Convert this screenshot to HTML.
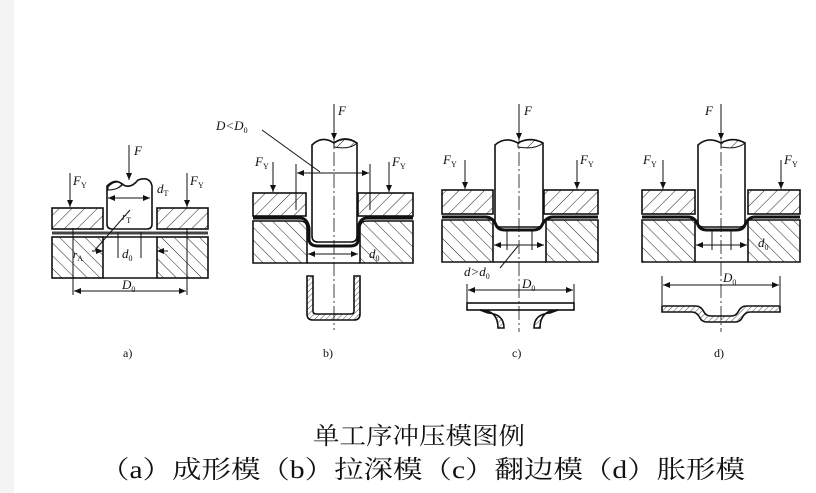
<!DOCTYPE html>
<html><head><meta charset="utf-8"><style>
html,body{margin:0;padding:0;background:#fff;}
svg{display:block;}
</style></head><body>
<svg width="816" height="493" viewBox="0 0 816 493" xmlns="http://www.w3.org/2000/svg" font-family="Liberation Serif, serif">
<defs>
<pattern id="h1" width="9" height="9" patternUnits="userSpaceOnUse" patternTransform="rotate(45)"><line x1="0" y1="0" x2="0" y2="9" stroke="#222" stroke-width="1"/></pattern>
<pattern id="h2" width="9" height="9" patternUnits="userSpaceOnUse" patternTransform="rotate(-45)"><line x1="0" y1="0" x2="0" y2="9" stroke="#222" stroke-width="1"/></pattern>
<pattern id="h3" width="4" height="4" patternUnits="userSpaceOnUse" patternTransform="rotate(45)"><line x1="0" y1="0" x2="0" y2="4" stroke="#222" stroke-width="0.8"/></pattern>
<marker id="ar" markerWidth="8" markerHeight="8" refX="7" refY="4" orient="auto"><path d="M0,1 L7,4 L0,7 z" fill="#111"/></marker>
</defs>
<rect x="0" y="0" width="14" height="493" fill="#f4f4f4"/>
<g stroke="#111" stroke-width="1.6" fill="none">
<!-- panel a -->
<rect x="52" y="208" width="51" height="21" fill="url(#h1)"/>
<rect x="157" y="208" width="51" height="21" fill="url(#h1)"/>
<rect x="52" y="237" width="51" height="41" fill="url(#h2)"/>
<rect x="157" y="237" width="51" height="41" fill="url(#h2)"/>
<line x1="103" y1="237" x2="157" y2="237"/>
<line x1="103" y1="278" x2="157" y2="278"/>
<path d="M107,186 Q115,178 122,184 Q130,190 138,180 Q150,176 152,186 L152,224 Q152,229 147,229 L112,229 Q107,229 107,224 Z" fill="#fff"/>
<path d="M108,187 Q115,179 123,184 Q118,190 108,190 Z" fill="url(#h1)" stroke-width="1"/>
<line x1="52" y1="233" x2="208" y2="233" stroke-width="3" stroke="#444"/>
</g>
<g stroke="#111" stroke-width="1" fill="none">
<line x1="129" y1="145" x2="129" y2="180" marker-end="url(#ar)"/>
<line x1="70" y1="173" x2="70" y2="207" marker-end="url(#ar)"/>
<line x1="187" y1="173" x2="187" y2="207" marker-end="url(#ar)"/>
<line x1="112" y1="198" x2="150" y2="198" marker-end="url(#ar)"/><line x1="150" y1="198" x2="108" y2="198" marker-end="url(#ar)"/>
<line x1="92" y1="251" x2="103" y2="251" marker-end="url(#ar)"/><line x1="168" y1="251" x2="157" y2="251" marker-end="url(#ar)"/>
<line x1="73" y1="228" x2="73" y2="295"/><line x1="187" y1="228" x2="187" y2="295"/>
<line x1="75" y1="291" x2="186" y2="291" marker-end="url(#ar)"/><line x1="185" y1="291" x2="74" y2="291" marker-end="url(#ar)"/>
<line x1="95" y1="250" x2="130" y2="210"/>
<line x1="118" y1="232" x2="118" y2="258"/><line x1="141" y1="232" x2="141" y2="258"/>
</g>
<g font-style="italic" font-size="13" fill="#111">
<text x="134" y="155">F</text><text x="73" y="185">F<tspan font-size="8" dy="3" font-style="normal">Y</tspan></text>
<text x="190" y="185">F<tspan font-size="8" dy="3" font-style="normal">Y</tspan></text>
<text x="157" y="193">d<tspan font-size="8" dy="3" font-style="normal">T</tspan></text>
<text x="122" y="220" font-size="11">r<tspan font-size="8" dy="3" font-style="normal">T</tspan></text>
<text x="73" y="258" font-size="11">r<tspan font-size="8" dy="3" font-style="normal">A</tspan></text>
<text x="122" y="258">d<tspan font-size="8" dy="3" font-style="normal">0</tspan></text>
<text x="122" y="289">D<tspan font-size="8" dy="3" font-style="normal">0</tspan></text>
</g>
<!-- panel b -->
<g stroke="#111" stroke-width="1.6" fill="none">
<rect x="253" y="193" width="53" height="23" fill="url(#h1)"/>
<rect x="358" y="193" width="55" height="23" fill="url(#h1)"/>
<path d="M253,221 L300,221 Q307,221 307,228 L307,263 L253,263 Z" fill="url(#h2)"/>
<path d="M413,221 L367,221 Q360,221 360,228 L360,263 L413,263 Z" fill="url(#h2)"/>
<line x1="307" y1="263" x2="360" y2="263"/>
<path d="M312,145 Q322,135 334,143 Q345,135 357,143 L357,236 Q357,242 351,242 L318,242 Q312,242 312,236 Z" fill="#fff"/>
<path d="M334,143 Q345,136 357,143 Q350,150 334,147 Z" fill="url(#h1)" stroke-width="1"/>
<path d="M253,218 L300,218 Q307,218 309,228 L309,240 Q310,246 318,246 L350,246 Q358,246 358,240 L358,228 Q360,218 367,218 L413,218" stroke-width="3"/>
<path fill-rule="evenodd" fill="url(#h3)" d="M307,276 L307,314 Q307,320 313,320 L354,320 Q360,320 360,314 L360,276 L354,276 L354,311 Q354,314 351,314 L316,314 Q313,314 313,311 L313,276 Z"/>
</g>
<g stroke="#111" stroke-width="1" fill="none">
<line x1="334" y1="104" x2="334" y2="140" marker-end="url(#ar)"/>
<line x1="273" y1="162" x2="273" y2="192" marker-end="url(#ar)"/>
<line x1="389" y1="162" x2="389" y2="192" marker-end="url(#ar)"/>
<line x1="296" y1="164" x2="296" y2="210"/><line x1="370" y1="164" x2="370" y2="210"/>
<line x1="298" y1="173" x2="369" y2="173" marker-end="url(#ar)"/><line x1="368" y1="173" x2="297" y2="173" marker-end="url(#ar)"/>
<line x1="262" y1="130" x2="320" y2="172"/>
<line x1="309" y1="254" x2="358" y2="254" marker-end="url(#ar)"/><line x1="357" y1="254" x2="308" y2="254" marker-end="url(#ar)"/>
<line x1="334" y1="130" x2="334" y2="330" stroke-dasharray="14,3,2,3" stroke-width="0.8"/>
</g>
<g font-style="italic" font-size="13" fill="#111">
<text x="338" y="115">F</text><text x="216" y="130">D&lt;D<tspan font-size="8" dy="3" font-style="normal">0</tspan></text>
<text x="255" y="166">F<tspan font-size="8" dy="3" font-style="normal">Y</tspan></text>
<text x="392" y="166">F<tspan font-size="8" dy="3" font-style="normal">Y</tspan></text>
<text x="369" y="258">d<tspan font-size="8" dy="3" font-style="normal">0</tspan></text>
</g>
<!-- panel c -->
<g stroke="#111" stroke-width="1.6" fill="none">
<rect x="442" y="190" width="51" height="24" fill="url(#h1)"/>
<rect x="544" y="190" width="54" height="24" fill="url(#h1)"/>
<path d="M442,220 L493,220 L493,262 L442,262 Z" fill="url(#h2)"/>
<path d="M546,220 L598,220 L598,262 L546,262 Z" fill="url(#h2)"/>
<line x1="493" y1="262" x2="546" y2="262"/>
<path d="M495,145 Q505,136 518,143 Q530,136 543,143 L543,222 Q543,227 538,227 L500,227 Q495,227 495,222 Z" fill="#fff"/>
<path d="M518,143 Q530,137 543,143 Q535,150 518,147 Z" fill="url(#h1)" stroke-width="1"/>
<path d="M442,217 L485,217 Q493,217 496,225 Q498,230 505,230 L533,230 Q540,230 542,225 Q546,217 553,217 L598,217" stroke-width="3"/>
<rect x="467" y="303" width="107" height="7" fill="#fff"/>
<path d="M480,310 Q498,310 498,328 L504,328 Q504,314 488,313 Z" fill="url(#h3)"/>
<path d="M558,310 Q540,310 540,328 L534,328 Q534,314 550,313 Z" fill="url(#h3)"/>
</g>
<g stroke="#111" stroke-width="1" fill="none">
<line x1="519" y1="104" x2="519" y2="140" marker-end="url(#ar)"/>
<line x1="465" y1="160" x2="465" y2="189" marker-end="url(#ar)"/>
<line x1="577" y1="160" x2="577" y2="189" marker-end="url(#ar)"/>
<line x1="507" y1="230" x2="507" y2="250"/><line x1="532" y1="230" x2="532" y2="250"/>
<line x1="495" y1="245" x2="544" y2="245" marker-end="url(#ar)"/><line x1="543" y1="245" x2="494" y2="245" marker-end="url(#ar)"/>
<line x1="500" y1="268" x2="518" y2="246"/>
<line x1="467" y1="284" x2="467" y2="303"/><line x1="574" y1="284" x2="574" y2="303"/>
<line x1="469" y1="290" x2="573" y2="290" marker-end="url(#ar)"/><line x1="572" y1="290" x2="468" y2="290" marker-end="url(#ar)"/>
<line x1="519" y1="130" x2="519" y2="332" stroke-dasharray="14,3,2,3" stroke-width="0.8"/>
</g>
<g font-style="italic" font-size="13" fill="#111">
<text x="524" y="115">F</text>
<text x="443" y="164">F<tspan font-size="8" dy="3" font-style="normal">Y</tspan></text>
<text x="580" y="164">F<tspan font-size="8" dy="3" font-style="normal">Y</tspan></text>
<text x="464" y="276">d&gt;d<tspan font-size="8" dy="3" font-style="normal">0</tspan></text>
<text x="522" y="288">D<tspan font-size="8" dy="3" font-style="normal">0</tspan></text>
</g>
<!-- panel d -->
<g stroke="#111" stroke-width="1.6" fill="none">
<rect x="642" y="190" width="53" height="24" fill="url(#h1)"/>
<rect x="748" y="190" width="52" height="24" fill="url(#h1)"/>
<path d="M642,220 L695,220 L695,262 L642,262 Z" fill="url(#h2)"/>
<path d="M748,220 L800,220 L800,262 L748,262 Z" fill="url(#h2)"/>
<line x1="695" y1="262" x2="748" y2="262"/>
<path d="M698,145 Q708,136 721,143 Q733,136 745,143 L745,222 Q745,227 740,227 L703,227 Q698,227 698,222 Z" fill="#fff"/>
<path d="M721,143 Q733,137 745,143 Q737,150 721,147 Z" fill="url(#h1)" stroke-width="1"/>
<path d="M642,217 L688,217 Q695,217 698,225 Q700,230 707,230 L736,230 Q743,230 745,225 Q748,217 755,217 L800,217" stroke-width="3"/>
<path d="M662,306 L696,306 Q701,306 704,312 Q706,316 711,316 L731,316 Q736,316 738,312 Q741,306 746,306 L780,306 L780,312 L750,312 Q745,312 742,318 Q740,322 735,322 L707,322 Q702,322 700,318 Q697,312 692,312 L662,312 Z" fill="url(#h3)"/>
</g>
<g stroke="#111" stroke-width="1" fill="none">
<line x1="721" y1="104" x2="721" y2="140" marker-end="url(#ar)"/>
<line x1="663" y1="160" x2="663" y2="189" marker-end="url(#ar)"/>
<line x1="781" y1="160" x2="781" y2="189" marker-end="url(#ar)"/>
<line x1="712" y1="230" x2="712" y2="250"/><line x1="731" y1="230" x2="731" y2="250"/>
<line x1="697" y1="245" x2="747" y2="245" marker-end="url(#ar)"/><line x1="746" y1="245" x2="696" y2="245" marker-end="url(#ar)"/>
<line x1="662" y1="276" x2="662" y2="305"/><line x1="780" y1="276" x2="780" y2="305"/>
<line x1="664" y1="285" x2="779" y2="285" marker-end="url(#ar)"/><line x1="778" y1="285" x2="663" y2="285" marker-end="url(#ar)"/>
<line x1="721" y1="130" x2="721" y2="332" stroke-dasharray="14,3,2,3" stroke-width="0.8"/>
</g>
<g font-style="italic" font-size="13" fill="#111">
<text x="705" y="115">F</text>
<text x="643" y="164">F<tspan font-size="8" dy="3" font-style="normal">Y</tspan></text>
<text x="784" y="164">F<tspan font-size="8" dy="3" font-style="normal">Y</tspan></text>
<text x="758" y="247">d<tspan font-size="8" dy="3" font-style="normal">0</tspan></text>
<text x="723" y="282">D<tspan font-size="8" dy="3" font-style="normal">0</tspan></text>
</g>
<g font-size="12" fill="#111">
<text x="123" y="357">a)</text><text x="323" y="357">b)</text><text x="512" y="357">c)</text><text x="714" y="357">d)</text>
</g>
<g font-family="Liberation Serif, 'Noto Serif CJK SC', serif" fill="#111">
<text x="313" y="444" font-size="24" textLength="212" lengthAdjust="spacingAndGlyphs">单工序冲压模图例</text>
<text x="100" y="478" font-size="25" textLength="645" lengthAdjust="spacingAndGlyphs">（a）成形模（b）拉深模（c）翻边模（d）胀形模</text>
</g>
</svg>
</body></html>
